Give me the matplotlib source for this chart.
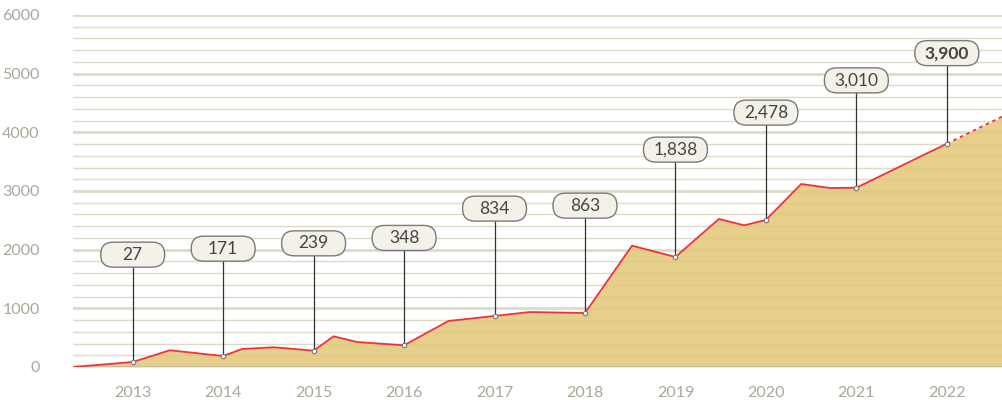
import numpy as np
import matplotlib
matplotlib.use('Agg')
import matplotlib.pyplot as plt
import matplotlib.transforms as mtransforms
from matplotlib.patches import FancyBboxPatch

matplotlib.rcParams.update({'font.family': ['Lato', 'DejaVu Sans'], 'font.size': 11.5})

# line points (fractional year, value)
x_years = [2012.34, 2013.0, 2013.41, 2014.0, 2014.21, 2014.56, 2015.0, 2015.22,
           2015.48, 2016.0, 2016.49, 2017.0, 2017.39, 2018.0, 2018.52, 2019.0,
           2019.48, 2019.76, 2020.0, 2020.39, 2020.71, 2021.0, 2022.0, 2022.61]
values = [0, 85, 285, 187, 307, 336, 278, 523, 426, 370, 784, 870, 937, 920,
          2068, 1875, 2523, 2415, 2506, 3119, 3051, 3056, 3806, 4267]

years = list(range(2013, 2023))
labels = ['27', '171', '239', '348', '834', '863', '1,838', '2,478', '3,010', '3,900']

fig = plt.figure(figsize=(10.02, 4.0), dpi=100)
ax = fig.add_axes([73 / 1002, 33 / 400, 1 - 73 / 1002, 352 / 400])
ax.set_xlim(x_years[0], x_years[-1])
ax.set_ylim(0, 6000)

# grid
for y in np.arange(200, 6001, 200):
    major = y % 1000 == 0
    ax.axhline(y, color='#dcdcc6', lw=2.0 if major else 1.0, zorder=0)
ax.axhline(0, color='#c8bf9c', lw=2.5, zorder=3)

ax.fill_between(x_years, values, 0, color='#e2c777', alpha=0.85, lw=0, zorder=1)
ax.plot(x_years[:-1], values[:-1], color='#f0303a', lw=1.3, zorder=4)
ax.plot(x_years[-2:], values[-2:], color='#f0303a', lw=1.3, ls=(0, (2, 2)), zorder=4)

# callouts (box size in inches, pill shaped)
w, h = 0.64, 0.25
px_y = 6000 / 352
for i, (yr, lab) in enumerate(zip(years, labels)):
    v = values[x_years.index(float(yr))]
    yc = min(v + 1830, 5350)
    ax.plot([yr, yr], [v, yc - 12.5 * px_y], color='#333333', lw=0.9, zorder=5)
    ax.plot(yr, v, 'o', ms=3.2, mfc='white', mec='#777777', mew=0.8, zorder=6)
    trans = fig.dpi_scale_trans + mtransforms.ScaledTranslation(yr, yc, ax.transData)
    box = FancyBboxPatch((-w / 2, -h / 2), w, h,
                         boxstyle='round,pad=0,rounding_size=%f' % (h / 2),
                         transform=trans, fc='#f4f2e8', ec='#7a7a7a',
                         lw=1, zorder=7)
    ax.add_patch(box)
    bold = i == len(years) - 1
    ax.text(yr, yc, lab, ha='center', va='center', color='#444444',
            fontsize=12.5, fontweight='bold' if bold else 'normal', zorder=8)

ax.set_xticks(years)
ax.set_xticklabels([str(y) for y in years])
ax.set_yticks(range(0, 6001, 1000))
ax.tick_params(length=0, colors='#a8a898', labelsize=11.5)
ax.tick_params(axis='y', pad=24)
ax.tick_params(axis='x', pad=14)
for s in ax.spines.values():
    s.set_visible(False)

fig.savefig('out.png', dpi=100)
